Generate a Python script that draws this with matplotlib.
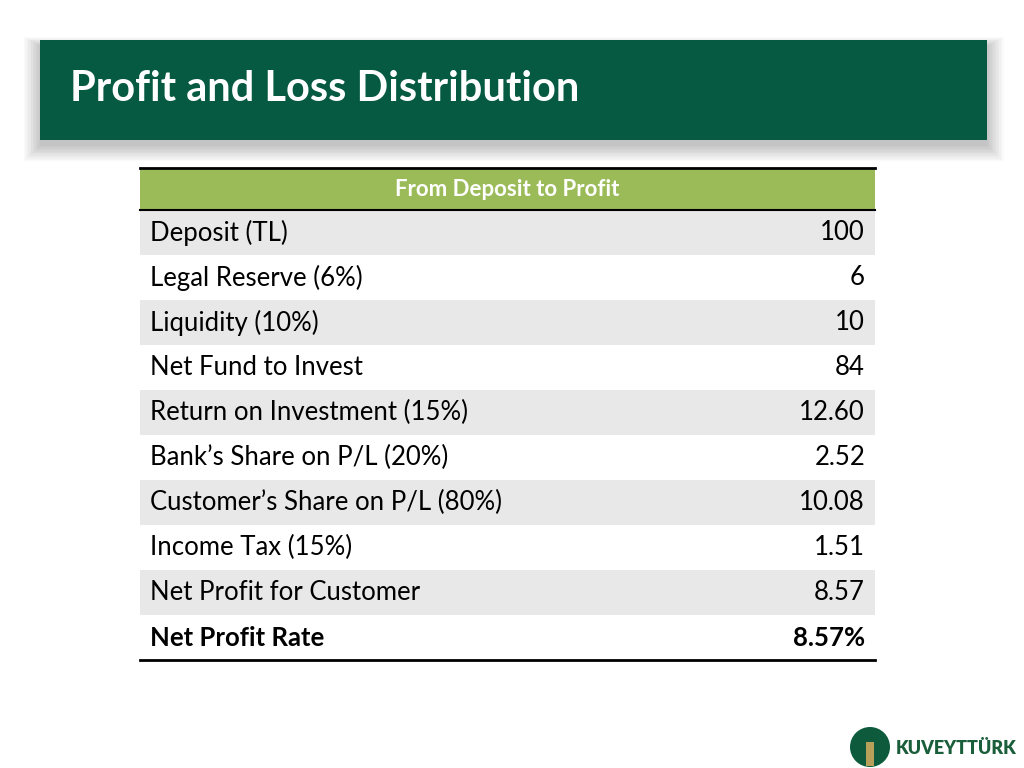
import matplotlib.pyplot as plt
from matplotlib.patches import Rectangle, Circle

plt.rcParams['font.family'] = ['Lato', 'DejaVu Sans']

labels = ['Deposit (TL)', 'Legal Reserve (6%)', 'Liquidity (10%)', 'Net Fund to Invest',
          'Return on Investment (15%)', 'Bank\u2019s Share on P/L (20%)',
          'Customer\u2019s Share on P/L (80%)', 'Income Tax (15%)',
          'Net Profit for Customer', 'Net Profit Rate']
values = ['100', '6', '10', '84', '12.60', '2.52', '10.08', '1.51', '8.57', '8.57%']

fig = plt.figure(figsize=(10.24, 7.68), dpi=100)
ax = fig.add_axes([0, 0, 1, 1])
ax.set_xlim(0, 1024)
ax.set_ylim(768, 0)
ax.axis('off')

# header bar with soft shadow
for i in range(12):
    ax.add_patch(Rectangle((40 - i * 1.5, 46 - i * 0.8), 947 + i * 3, 100 + i * 2.2,
                           color='black', alpha=0.02, lw=0))
ax.add_patch(Rectangle((40, 40), 947, 100, color='#075A42', lw=0))
ax.text(70, 89, 'Profit and Loss Distribution', color='white', fontsize=30,
        fontweight='bold', va='center')

# table
x0, x1 = 140, 875
top, hh, rh = 168, 42, 45
ax.add_patch(Rectangle((x0, top), x1 - x0, hh, color='#9BBB59', lw=0))
ax.text((x0 + x1) / 2, top + hh / 2, 'From Deposit to Profit', color='white',
        fontsize=16, fontweight='bold', ha='center', va='center')
for i, (lab, val) in enumerate(zip(labels, values)):
    y = top + hh + i * rh
    if i % 2 == 0:
        ax.add_patch(Rectangle((x0, y), x1 - x0, rh, color='#E8E8E8', lw=0))
    w = 'bold' if i == len(labels) - 1 else 'normal'
    ax.text(150, y + rh / 2, lab, fontsize=18.5, fontweight=w, va='center', color='black')
    ax.text(865, y + rh / 2, val, fontsize=18.5, fontweight=w, va='center', ha='right',
            color='black')
bottom = top + hh + len(labels) * rh
ax.plot([x0, x1], [top, top], color='black', lw=2)
ax.plot([x0, x1], [top + hh, top + hh], color='black', lw=1.5)
ax.plot([x0, x1], [bottom, bottom], color='black', lw=2)

# logo
ax.add_patch(Circle((870, 747), 20, color='#0E5A3C', lw=0))
ax.add_patch(Rectangle((866, 742), 8, 24, color='#B8A05A', lw=0))
ax.text(896, 748, 'KUVEYTTÜRK', fontsize=13, fontweight='heavy', color='#1B5E3B',
        va='center')

fig.savefig('out.png', dpi=100)
